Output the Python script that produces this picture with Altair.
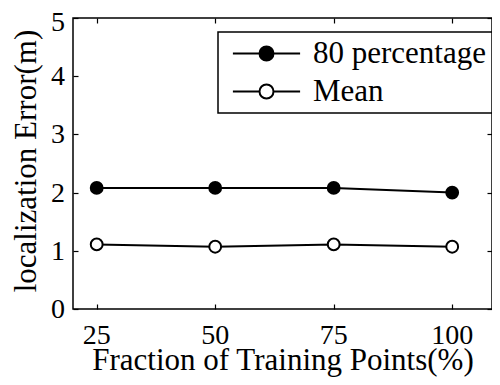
import altair as alt
import pandas as pd

fractions = [25, 50, 75, 100]
p80 = [2.08, 2.08, 2.08, 2.0]
mean_err = [1.11, 1.07, 1.11, 1.07]
series_names = ["80 percentage", "Mean"]
x_ticks = [25, 50, 75, 100]
y_ticks_low = [0, 1, 2, 3, 4]
y_tick_top = [5]
y_ticks = y_ticks_low + y_tick_top
x_title = ["Fraction of Training Points(%)"]
y_title = ["localization Error(m)"]

df = pd.DataFrame({
    "fraction": fractions * 2,
    "error": p80 + mean_err,
    "series": [series_names[0]] * 4 + [series_names[1]] * 4,
})

FONT = "Liberation Serif"
legend_path = "M-4.8,0H-1M1,0H4.8M-1,0A1,1,0,1,1,1,0A1,1,0,1,1,-1,0"

PLOT_H = 291
x_scale = alt.Scale(domain=[20, 108.4], nice=False, zero=False)
y_scale = alt.Scale(domain=[0, 5], nice=False)

tick_axis = dict(domain=False, grid=False, labels=False, title=None, ticks=True,
                 tickColor="black", tickWidth=1.2, tickSize=5, offset=-5)

x_bottom_ticks = alt.Axis(values=x_ticks, orient="bottom", **tick_axis)
y_left_ticks = alt.Axis(values=y_ticks, orient="left", **tick_axis)
x_top_ticks = alt.Axis(values=x_ticks, orient="top", **tick_axis)
y_right_ticks = alt.Axis(values=y_ticks, orient="right", **tick_axis)

base = alt.Chart(df)

line_p80 = base.transform_filter(alt.datum.series == series_names[0]).mark_line(
    color="black", strokeWidth=2).encode(
    x=alt.X("fraction:Q", scale=x_scale, axis=None),
    y=alt.Y("error:Q", scale=y_scale, axis=None),
)

line_mean = base.transform_filter(alt.datum.series == series_names[1]).mark_line(
    color="black", strokeWidth=2).encode(
    x=alt.X("fraction:Q", scale=x_scale, axis=x_bottom_ticks),
    y=alt.Y("error:Q", scale=y_scale, axis=y_left_ticks),
)

points = base.mark_point(shape="circle", filled=True, size=140,
                         stroke="black", strokeWidth=2, opacity=1).encode(
    x=alt.X("fraction:Q", scale=x_scale, axis=x_top_ticks),
    y=alt.Y("error:Q", scale=y_scale, axis=y_right_ticks),
    fill=alt.Fill("series:N",
                  scale=alt.Scale(domain=series_names, range=["black", "white"]),
                  legend=alt.Legend(title=None, orient="none", legendX=145, legendY=14,
                                    symbolType=legend_path, symbolSize=196,
                                    symbolStrokeColor="black", symbolStrokeWidth=2,
                                    symbolOpacity=1, symbolOffset=27, labelOffset=31,
                                    labelFont=FONT, labelFontSize=31, labelColor="black",
                                    labelLimit=400, rowPadding=6, padding=6,
                                    strokeColor="black", fillColor="white")),
)

x_labels = alt.Chart(pd.DataFrame({"v": x_ticks, "lab": [str(v) for v in x_ticks]})).mark_text(
    font=FONT, fontSize=28, align="center", baseline="alphabetic", color="black").encode(
    x=alt.X("v:Q", scale=x_scale, axis=None), y=alt.value(PLOT_H + 35), text="lab:N")

y_labels = alt.Chart(pd.DataFrame({"v": y_ticks_low,
                                   "lab": [str(v) for v in y_ticks_low]})).mark_text(
    font=FONT, fontSize=28, align="right", baseline="middle", color="black", dy=1).encode(
    y=alt.Y("v:Q", scale=y_scale, axis=None), x=alt.value(-8), text="lab:N")

y_label_top = alt.Chart(pd.DataFrame({"v": y_tick_top,
                                      "lab": [str(v) for v in y_tick_top]})).mark_text(
    font=FONT, fontSize=28, align="right", baseline="middle", color="black", dy=5).encode(
    y=alt.Y("v:Q", scale=y_scale, axis=None), x=alt.value(-8), text="lab:N")

x_title_text = alt.Chart(pd.DataFrame({"t": x_title})).mark_text(
    font=FONT, fontSize=31, align="center", baseline="alphabetic", color="black").encode(
    x=alt.value(210), y=alt.value(PLOT_H + 61), text="t:N")

y_title_text = alt.Chart(pd.DataFrame({"t": y_title})).mark_text(
    font=FONT, fontSize=31, align="center", baseline="alphabetic", angle=270,
    color="black").encode(
    x=alt.value(-37), y=alt.value(143), text="t:N")

chart = alt.layer(line_p80, line_mean, points, x_labels, y_labels, y_label_top,
                  x_title_text, y_title_text).resolve_axis(
    x="independent", y="independent").properties(
    width=419, height=PLOT_H,
    autosize=alt.AutoSizeParams(type="none"),
    padding={"left": 65, "top": 10, "right": 0, "bottom": 68},
).configure_legend(strokeWidth=1.5).configure_view(stroke="black", strokeWidth=1.5)

chart.save("out.html", embed_options={"renderer": "svg", "actions": False})
